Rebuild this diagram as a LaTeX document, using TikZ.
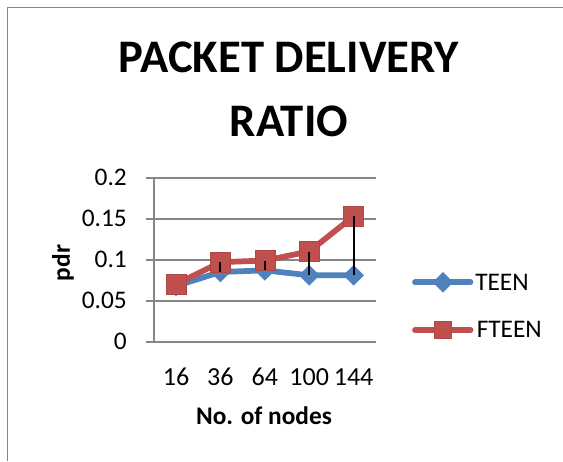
\documentclass[tikz,border=0pt]{standalone}
\usepackage{fontspec}
\setmainfont{Carlito}
\usetikzlibrary{shapes.geometric}
\definecolor{teenblue}{HTML}{4F81BD}
\definecolor{fteenred}{HTML}{C0504D}
\definecolor{gridgray}{HTML}{868686}
\tikzset{
  framelin/.style={draw=gridgray, line width=1.1pt},
  gridlin/.style={draw=gridgray, line width=1.2pt},
  teenline/.style={draw=teenblue, line width=4.3pt, line join=round, line cap=round},
  fteenline/.style={draw=fteenred, line width=4.3pt, line join=round, line cap=round},
  dmark/.style={shape=diamond, fill=teenblue, draw=teenblue, inner sep=0pt, minimum width=15pt, minimum height=15pt},
  smark/.style={shape=rectangle, fill=fteenred, draw=fteenred!90!black, line width=0.4pt, inner sep=0pt, minimum size=15pt},
  smarkleg/.style={shape=rectangle, fill=fteenred, draw=fteenred!90!black, line width=0.4pt, inner sep=0pt, minimum size=12.5pt},
  dropline/.style={draw=black, line width=1.5pt},
  ticklbl/.style={font=\fontsize{19}{22}\selectfont, anchor=base east, inner sep=0pt},
  catlbl/.style={font=\fontsize{19.5}{22}\selectfont, anchor=base, inner sep=0pt},
  axlbl/.style={font=\fontsize{19}{22}\selectfont\bfseries, inner sep=0pt},
  leglbl/.style={font=\fontsize{19}{22}\selectfont, anchor=base west, inner sep=0pt},
  titlelbl/.style={font=\fontsize{35}{40}\selectfont\bfseries, inner sep=0pt, anchor=base},
}
\begin{document}
\begin{tikzpicture}[x=0.75pt, y=-0.75pt]
\useasboundingbox (0,0) rectangle (563,461);
% outer frame (top and left edges visible)
\draw[framelin] (7.5,461) -- (7.5,7.5) -- (563,7.5);
% title
\node[titlelbl] (title1) at (289,72) {PACKET DELIVERY};
\node[titlelbl] (title2) at (289,136) {RATIO};
% gridlines and axis
\foreach \v/\lab [count=\i] in {0/0, 0.05/0.05, 0.1/0.1, 0.15/0.15, 0.2/0.2} {
  \draw[gridlin] (146,{341.7-\v*820}) -- (376,{341.7-\v*820});
  \node[ticklbl] (yt\i) at (127,{341.7-\v*820+8}) {\lab};
}
\draw[gridlin] (154,177.7) -- (154,341.7);
% axis titles
\node[axlbl, rotate=90] (ylab) at (63,263) {pdr};
\node[axlbl, anchor=base] (xlab) at (264,424) {No. of nodes};
% category labels
\foreach \c [count=\i] in {16,36,64,100,144} {
  \node[catlbl] (xc\i) at ({176+(\i-1)*44.4},385) {\c};
}
% data coordinates
\foreach \v [count=\i] in {0.068,0.085,0.087,0.081,0.081} {
  \coordinate (tp\i) at ({176+(\i-1)*44.4},{341.7-\v*820});
}
\foreach \v [count=\i] in {0.070,0.097,0.099,0.110,0.153} {
  \coordinate (fp\i) at ({176+(\i-1)*44.4},{341.7-\v*820});
}
% TEEN series
\draw[teenline] (tp1) -- (tp2) -- (tp3) -- (tp4) -- (tp5);
\foreach \i in {1,...,5} { \node[dmark] (t\i) at (tp\i) {}; }
% FTEEN series
\draw[fteenline] (fp1) -- (fp2) -- (fp3) -- (fp4) -- (fp5);
\foreach \i in {1,...,5} { \node[smark] (f\i) at (fp\i) {}; }
% high-low lines
\foreach \i in {2,...,5} { \draw[dropline] (f\i.center) -- (t\i.center); }
% legend
\coordinate (la1) at (415,282.3);
\coordinate (lb1) at (470.5,282.3);
\draw[teenline] (la1) -- (lb1);
\node[dmark] (lt) at (443,282.3) {};
\node[leglbl] (lteen) at (475,290) {TEEN};
\coordinate (la2) at (415,330);
\coordinate (lb2) at (470.5,330);
\draw[fteenline] (la2) -- (lb2);
\node[smarkleg] (lf) at (443,330) {};
\node[leglbl] (lfteen) at (476.5,337.5) {FTEEN};
\end{tikzpicture}
\end{document}
